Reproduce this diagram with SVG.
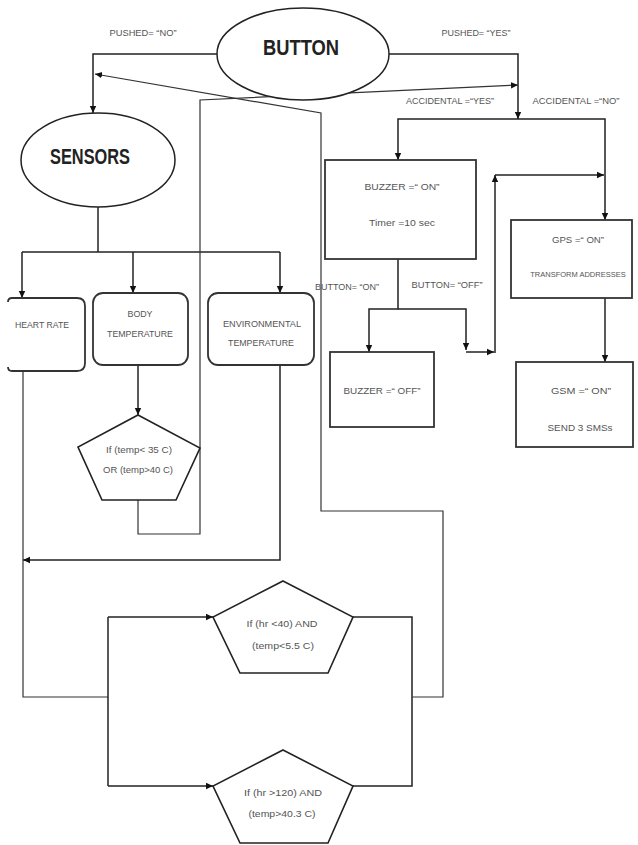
<svg xmlns="http://www.w3.org/2000/svg" width="638" height="845" viewBox="0 0 638 845">
<style>
.ln{fill:none;stroke:#222;stroke-width:1.5}
.thin{fill:none;stroke:#333;stroke-width:1.2}
.box{fill:#fff;stroke:#333;stroke-width:1.8}
.el{fill:#fff;stroke:#222;stroke-width:1.5}
.pg{fill:#fff;stroke:#222;stroke-width:1.6}
.t{font-family:"Liberation Sans",Arial,sans-serif;font-size:9px;fill:#555;text-anchor:middle}
.s{font-size:7.5px}
.b{font-family:"Liberation Sans",Arial,sans-serif;font-weight:bold;fill:#222;text-anchor:middle}
</style>
<defs>
<marker id="ah" markerWidth="8" markerHeight="8" refX="7" refY="4" orient="auto" markerUnits="userSpaceOnUse">
<path d="M0,0.8 L7,4 L0,7.2 Z" fill="#111"/>
</marker>
</defs>
<rect width="638" height="845" fill="#fff"/>

<g id="connectors">
<path class="ln" d="M217 54 H93 V113" marker-end="url(#ah)"/>
<path class="ln" d="M389 54 H518 V119" marker-end="url(#ah)"/>
<path class="ln" d="M518 119 H398 V160" marker-end="url(#ah)"/>
<path class="ln" d="M518 119 H605 V220" marker-end="url(#ah)"/>
<path class="ln" d="M398 259 V309 H369 V352" marker-end="url(#ah)"/>
<path class="ln" d="M398 309 H466 V350" marker-end="url(#ah)"/>
<path class="ln" d="M466 352 H494" marker-end="url(#ah)"/>
<path class="ln" d="M495 353 V175" marker-end="url(#ah)"/>
<path class="ln" d="M495 175 H604" marker-end="url(#ah)"/>
<path class="ln" d="M605 298 V362" marker-end="url(#ah)"/>
<path class="ln" d="M98 207 V252"/>
<path class="ln" d="M22 252 H280"/>
<path class="ln" d="M22 252 V298" marker-end="url(#ah)"/>
<path class="ln" d="M133 252 V293" marker-end="url(#ah)"/>
<path class="ln" d="M280 252 V293" marker-end="url(#ah)"/>
<path class="ln" d="M138 365 V415" marker-end="url(#ah)"/>
<path class="thin" d="M138 500 V534 H200 V100 L518 85" marker-end="url(#ah)"/>
<path class="ln" d="M280 365 V560 H23" marker-end="url(#ah)"/>
<path class="thin" d="M23 371 V697 H108"/>
<path class="ln" d="M108 617 V786"/>
<path class="ln" d="M108 617 H213" marker-end="url(#ah)"/>
<path class="ln" d="M108 786 H213" marker-end="url(#ah)"/>
<path class="ln" d="M353 617 H412 V786 H353"/>
<path class="thin" d="M412 697 H443 V511 H321 V113 L95 74" marker-end="url(#ah)"/>
</g>

<g id="button">
<ellipse class="el" cx="303" cy="54" rx="86" ry="46"/>
<text class="b" x="301" y="55" font-size="22" textLength="76" lengthAdjust="spacingAndGlyphs">BUTTON</text>
</g>

<g id="labels">
<text class="t" x="143" y="36" textLength="67" lengthAdjust="spacingAndGlyphs">PUSHED= “NO”</text>
<text class="t" x="476" y="36" textLength="69" lengthAdjust="spacingAndGlyphs">PUSHED= “YES”</text>
<text class="t" x="450" y="104" textLength="88" lengthAdjust="spacingAndGlyphs">ACCIDENTAL =“YES”</text>
<text class="t" x="576" y="104" textLength="87" lengthAdjust="spacingAndGlyphs">ACCIDENTAL =“NO”</text>
<text class="t" x="347" y="290" textLength="64" lengthAdjust="spacingAndGlyphs">BUTTON= “ON”</text>
<text class="t" x="447" y="288" textLength="71" lengthAdjust="spacingAndGlyphs">BUTTON= “OFF”</text>
</g>

<g id="sensors">
<ellipse class="el" cx="98" cy="160" rx="77" ry="47"/>
<text class="b" x="90" y="164" font-size="22" textLength="80" lengthAdjust="spacingAndGlyphs">SENSORS</text>
</g>

<g id="heart-rate">
<path class="box" d="M8 302 Q8 298 12 298 H77 Q85 298 85 306 V363 Q85 371 77 371 H12 Q8 371 8 367"/>
<text class="t" x="42" y="328" textLength="54" lengthAdjust="spacingAndGlyphs">HEART RATE</text>
</g>

<g id="body-temperature">
<rect class="box" x="93" y="293" width="95" height="72" rx="10"/>
<text class="t" x="140" y="317" textLength="25" lengthAdjust="spacingAndGlyphs">BODY</text>
<text class="t" x="140" y="337" textLength="66" lengthAdjust="spacingAndGlyphs">TEMPERATURE</text>
</g>

<g id="environmental-temperature">
<rect class="box" x="208" y="293" width="106" height="72" rx="10"/>
<text class="t" x="262" y="327" textLength="78" lengthAdjust="spacingAndGlyphs">ENVIRONMENTAL</text>
<text class="t" x="261" y="346" textLength="66" lengthAdjust="spacingAndGlyphs">TEMPERATURE</text>
</g>

<g id="temp-check">
<polygon class="pg" points="138,415 200,448 176,500 102,500 78,447"/>
<text class="t" x="139" y="453" textLength="66" lengthAdjust="spacingAndGlyphs">If (temp&lt; 35 C)</text>
<text class="t" x="138" y="473" textLength="70" lengthAdjust="spacingAndGlyphs">OR (temp&gt;40 C)</text>
</g>

<g id="buzzer-on">
<rect class="box" x="325" y="160" width="151" height="99"/>
<text class="t" x="402" y="190" textLength="75" lengthAdjust="spacingAndGlyphs">BUZZER =“ ON”</text>
<text class="t" x="402" y="226" textLength="66" lengthAdjust="spacingAndGlyphs">Timer =10 sec</text>
</g>

<g id="buzzer-off">
<rect class="box" x="330" y="352" width="104" height="75"/>
<text class="t" x="382" y="394" textLength="77" lengthAdjust="spacingAndGlyphs">BUZZER =“ OFF”</text>
</g>

<g id="gps">
<rect class="box" x="511" y="220" width="121" height="78"/>
<text class="t" x="578" y="243" textLength="52" lengthAdjust="spacingAndGlyphs">GPS =“ ON”</text>
<text class="t s" x="578" y="277">TRANSFORM ADDRESSES</text>
</g>

<g id="gsm">
<rect class="box" x="516" y="362" width="117" height="85"/>
<text class="t" x="581" y="394" textLength="60" lengthAdjust="spacingAndGlyphs">GSM =“ ON”</text>
<text class="t" x="580" y="431" textLength="65" lengthAdjust="spacingAndGlyphs">SEND 3 SMSs</text>
</g>

<g id="low-check">
<polygon class="pg" points="283,581 353,617 328,673 240,673 213,617"/>
<text class="t" x="282" y="627" textLength="71" lengthAdjust="spacingAndGlyphs">If (hr &lt;40) AND</text>
<text class="t" x="283" y="649" textLength="62" lengthAdjust="spacingAndGlyphs">(temp&lt;5.5 C)</text>
</g>

<g id="high-check">
<polygon class="pg" points="283,750 353,786 328,843 240,843 213,786"/>
<text class="t" x="283" y="796" textLength="78" lengthAdjust="spacingAndGlyphs">If (hr &gt;120) AND</text>
<text class="t" x="282" y="817" textLength="67" lengthAdjust="spacingAndGlyphs">(temp&gt;40.3 C)</text>
</g>
</svg>
